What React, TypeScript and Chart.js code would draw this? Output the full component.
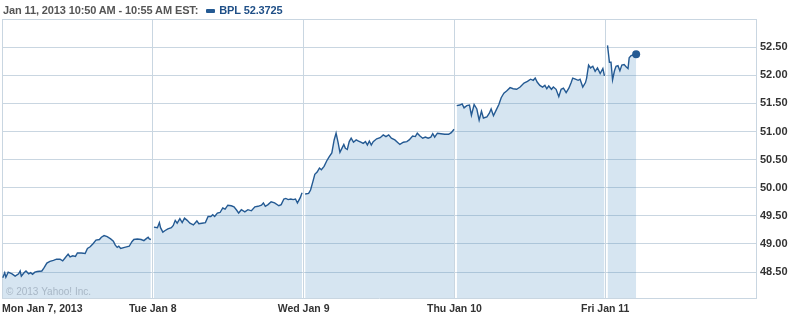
import React, { useEffect, useRef } from "react";
import { Chart, registerables } from "chart.js";

Chart.register(...registerables);

const SESSION = 390;
const dayLabels = ["Mon Jan 7, 2013", "Tue Jan 8", "Wed Jan 9", "Thu Jan 10", "Fri Jan 11"];
const yTicks = [48.5, 49.0, 49.5, 50.0, 50.5, 51.0, 51.5, 52.0, 52.5, 53.0];
const headerTime = "Jan 11, 2013 10:50 AM - 10:55 AM EST:";
const seriesName = "BPL";
const lastQuote = 52.3725;
const copyright = "\u00A9 2013 Yahoo! Inc.";

// minutes after 9:30 open, per trading day
const monMinutes = [2,7,10,16,26,34,43,47,50,57,62,69,74,79,85,91,103,109,116,124,133,141,150,157,164,171,176,183,190,195,205,215,221,228,236,243,252,257,264,272,281,288,293,298,302,307,317,329,336,341,350,360,367,374,378,381,385];
const monPrices = [48.40,48.49,48.41,48.50,48.47,48.43,48.47,48.52,48.43,48.49,48.52,48.47,48.49,48.46,48.50,48.51,48.52,48.58,48.66,48.69,48.71,48.73,48.73,48.70,48.76,48.82,48.77,48.79,48.78,48.84,48.84,48.83,48.92,48.95,49.01,49.07,49.08,49.12,49.15,49.13,49.09,49.05,48.98,48.94,48.96,48.92,48.94,48.96,49.04,49.08,49.09,49.08,49.06,49.10,49.12,49.09,49.08];

const tueMinutes = [3,12,17,20,26,32,39,48,53,58,63,70,76,82,89,96,105,114,119,127,136,143,150,155,160,167,174,181,187,194,203,210,217,222,229,238,246,255,264,272,281,286,291,298,306,315,326,332,339,344,350,357,363,369,374,381,386];
const tuePrices = [49.30,49.29,49.38,49.29,49.21,49.24,49.27,49.29,49.33,49.42,49.37,49.45,49.38,49.46,49.42,49.37,49.34,49.41,49.36,49.37,49.38,49.49,49.49,49.52,49.49,49.55,49.56,49.64,49.62,49.69,49.68,49.66,49.60,49.55,49.61,49.57,49.61,49.59,49.66,49.67,49.69,49.73,49.67,49.70,49.75,49.73,49.68,49.70,49.80,49.81,49.79,49.80,49.79,49.80,49.73,49.82,49.91];

const wedMinutes = [4,13,18,24,29,35,41,46,53,60,66,73,79,84,89,94,99,104,108,113,118,123,129,136,142,148,154,160,165,170,175,180,189,198,206,213,220,227,236,244,249,258,267,273,282,289,294,301,308,315,322,329,334,339,346,355,365,375,382,389];
const wedPrices = [49.89,49.90,49.96,50.11,50.24,50.28,50.35,50.32,50.38,50.48,50.55,50.62,50.85,50.97,50.81,50.63,50.70,50.77,50.70,50.68,50.82,50.88,50.81,50.85,50.83,50.81,50.79,50.82,50.76,50.83,50.76,50.82,50.87,50.89,50.94,50.91,50.94,50.88,50.85,50.80,50.77,50.81,50.82,50.85,50.92,50.91,50.97,50.92,50.88,50.90,50.88,50.90,50.96,50.90,50.97,50.96,50.95,50.95,50.98,51.04];

const thuMinutes = [6,14,20,25,32,39,44,51,58,64,70,75,84,90,95,101,108,115,121,128,135,144,152,161,170,180,189,197,204,209,214,221,228,234,239,244,251,256,263,270,276,282,289,296,302,306,313,320,325,332,339,342,347,352,358,364,370,377,384,388];
const thuPrices = [51.46,51.47,51.49,51.42,51.46,51.47,51.29,51.48,51.40,51.20,51.36,51.24,51.26,51.32,51.40,51.28,51.38,51.48,51.60,51.68,51.72,51.78,51.76,51.75,51.79,51.86,51.89,51.93,51.91,51.95,51.88,51.82,51.79,51.82,51.76,51.81,51.75,51.79,51.75,51.62,51.75,51.77,51.69,51.77,51.87,51.95,51.93,51.91,51.93,51.79,51.87,51.95,52.18,52.13,52.16,52.07,52.13,52.03,52.12,51.99];

const friMinutes = [6,11,15,19,24,28,33,38,43,49,54,59,62,67,73,80];
const friPrices = [52.53,52.23,52.23,51.92,52.08,52.16,52.17,52.08,52.18,52.19,52.15,52.12,52.31,52.35,52.36,52.3725];

const days = [
  { minutes: monMinutes, prices: monPrices },
  { minutes: tueMinutes, prices: tuePrices },
  { minutes: wedMinutes, prices: wedPrices },
  { minutes: thuMinutes, prices: thuPrices },
  { minutes: friMinutes, prices: friPrices },
];

const LINE = "#245a93";
const FILL = "rgba(70,135,190,0.22)";
const GRID = "#c9d6e1";
const LABEL = "#333333";
const FONT = '"Liberation Sans", Arial, sans-serif';

const copyrightPlugin = {
  id: "copyright",
  afterDatasetsDraw(chart: any) {
    const { ctx, chartArea } = chart;
    ctx.save();
    ctx.font = `10px ${FONT}`;
    ctx.fillStyle = "rgba(160,175,190,0.85)";
    ctx.textBaseline = "alphabetic";
    ctx.fillText(copyright, chartArea.left + 4, chartArea.bottom - 3);
    ctx.restore();
  },
};

export default function App() {
  const ref = useRef<HTMLCanvasElement | null>(null);

  useEffect(() => {
    if (!ref.current) return;
    const datasets = days.map((d, di) => ({
      label: dayLabels[di],
      data: d.minutes.map((m, i) => ({ x: di * SESSION + m, y: d.prices[i] })),
      borderColor: LINE,
      backgroundColor: FILL,
      borderWidth: 1.4,
      fill: "start",
      tension: 0,
      clip: 6,
      pointRadius: d.minutes.map((_, i) => (di === days.length - 1 && i === d.minutes.length - 1 ? 4 : 0)),
      pointBackgroundColor: LINE,
      pointBorderColor: LINE,
      pointBorderWidth: 0,
    }));

    const chart = new Chart(ref.current, {
      type: "line",
      data: { datasets },
      options: {
        animation: false,
        responsive: true,
        maintainAspectRatio: false,
        layout: { autoPadding: false, padding: { left: 2, top: 19, right: 0, bottom: 0 } },
        plugins: { legend: { display: false }, tooltip: { enabled: false } },
        scales: {
          x: {
            type: "linear",
            min: 0,
            max: SESSION * 5,
            afterBuildTicks: (scale: any) => {
              scale.ticks = [0, 1, 2, 3, 4, 5].map((i) => ({ value: i * SESSION }));
            },
            afterFit: (scale: any) => {
              scale.height = 17;
            },
            grid: { color: GRID, drawTicks: true, tickLength: 5, tickColor: "rgba(0,0,0,0)", lineWidth: 1 },
            border: { display: true, color: GRID },
            ticks: {
              autoSkip: false,
              maxRotation: 0,
              align: "inner",
              padding: 0,
              color: LABEL,
              font: { family: FONT, size: 10.5, weight: "bold" },
              callback: (_v: any, i: number) => dayLabels[i] ?? "",
            },
          },
          y: {
            position: "right",
            min: 48.04,
            max: 53.0,
            afterBuildTicks: (scale: any) => {
              scale.ticks = yTicks.map((v) => ({ value: v }));
            },
            afterFit: (scale: any) => {
              scale.width = 38;
            },
            grid: { color: GRID, drawTicks: false, lineWidth: 1 },
            border: { display: true, color: GRID },
            ticks: {
              padding: 4,
              color: LABEL,
              font: { family: FONT, size: 11, weight: "bold" },
              callback: (v: any) => (Number(v) >= 53 ? "" : Number(v).toFixed(2)),
            },
          },
        },
      },
      plugins: [copyrightPlugin],
    } as any);
    return () => chart.destroy();
  }, []);

  return (
    <div style={{ position: "fixed", left: 0, top: 0, width: 794, height: 315, background: "#fff" }}>
      <canvas ref={ref} />
      <div
        style={{
          position: "absolute",
          left: 3,
          top: 4,
          font: `bold 11px ${FONT}`,
          letterSpacing: "-0.12px",
          color: "#555555",
          whiteSpace: "nowrap",
          display: "flex",
          alignItems: "center",
          lineHeight: "13px",
        }}
      >
        <span>{headerTime}</span>
        <span
          style={{
            display: "inline-block",
            width: 9,
            height: 4,
            background: LINE,
            borderRadius: 1,
            marginLeft: 8,
            marginRight: 4,
          }}
        />
        <span style={{ color: "#1f4f87" }}>
          {seriesName} {lastQuote.toFixed(4)}
        </span>
      </div>
    </div>
  );
}
